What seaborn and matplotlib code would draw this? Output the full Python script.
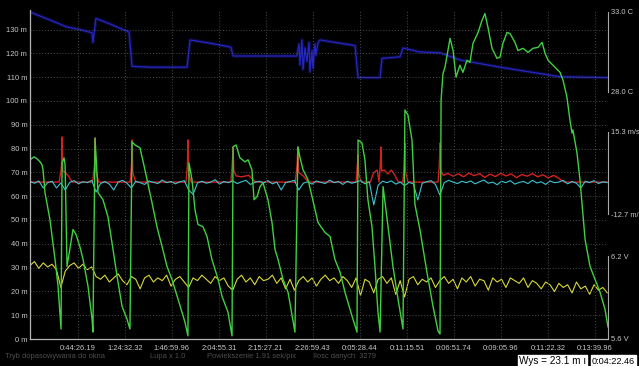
import numpy as np
import pandas as pd
import matplotlib
matplotlib.use("Agg")
import matplotlib.pyplot as plt
import seaborn as sns

# --- data ---
# altitude (green), sample index -> metres
alt_samples = [0, 23, 40, 57, 68, 74, 85, 113, 142, 159,
               176, 182, 193, 199, 210, 221, 244, 261, 284, 301,
               329, 352, 357, 369, 386, 414, 442, 471, 494, 522,
               550, 567, 579, 596, 624, 652, 692, 720, 749, 777,
               805, 840, 879, 896, 902, 919, 936, 953, 981, 1004,
               1032, 1067, 1089, 1123, 1146, 1152, 1169, 1191, 1220, 1237,
               1259, 1271, 1288, 1305, 1322, 1350, 1373, 1390, 1407, 1435,
               1464, 1503, 1520, 1532, 1549, 1577, 1600, 1634, 1674, 1702,
               1730, 1759, 1787, 1827, 1855, 1861, 1883, 1900, 1917, 1940,
               1957, 1974, 1986, 2003, 2031, 2059, 2088, 2116, 2127, 2144,
               2167, 2184, 2212, 2252, 2286, 2315, 2326, 2332, 2343, 2354,
               2383, 2400, 2417, 2439, 2456, 2479, 2496, 2513, 2542, 2564,
               2581, 2598, 2621, 2649, 2666, 2683, 2706, 2723, 2751, 2768,
               2797, 2825, 2853, 2882, 2905, 2922, 2939, 2967, 3007, 3024,
               3046, 3063, 3075, 3080, 3103, 3120, 3149, 3177, 3205, 3234,
               3262, 3279]
alt_m = [75.3, 76.5, 75.7, 74.4, 73.2, 71.1, 61.5, 50.2, 33.4, 22.2,
         4.2, 74.0, 76.1, 73.2, 30.5, 35.5, 46.0, 43.9, 38.5, 33.4,
         22.2, 8.4, 2.9, 84.4, 61.5, 58.5, 51.4, 37.6, 26.3, 13.8,
         8.4, 4.2, 82.8, 81.5, 80.3, 71.1, 57.3, 47.2, 38.9, 30.5,
         25.1, 16.7, 7.1, 1.3, 74.0, 66.9, 54.3, 48.1, 47.2, 43.1,
         33.4, 25.1, 18.0, 11.3, 1.3, 80.7, 81.5, 76.1, 74.4, 75.3,
         71.1, 58.5, 59.8, 64.0, 65.6, 58.5, 48.9, 37.6, 33.4, 25.1,
         19.6, 2.9, 80.7, 76.1, 71.1, 66.9, 59.8, 48.9, 44.7, 43.1,
         33.4, 28.0, 19.6, 9.6, 2.9, 83.6, 82.4, 75.3, 58.5, 47.2,
         30.5, 11.3, 2.9, 64.0, 47.2, 30.5, 16.7, 4.2, 96.2, 94.1,
         83.6, 56.4, 46.0, 28.0, 13.8, 3.3, 2.1, 100.3, 111.6, 114.1,
         126.3, 121.2, 110.0, 115.0, 112.0, 117.1, 116.2, 124.2, 128.8, 133.8,
         136.7, 130.9, 122.1, 117.9, 118.3, 124.2, 128.8, 128.3, 124.6, 121.2,
         122.1, 120.4, 122.1, 122.5, 124.6, 120.0, 117.1, 115.0, 112.0, 108.7,
         101.6, 92.0, 86.5, 87.8, 78.2, 66.9, 41.8, 30.5, 25.1, 19.6,
         12.5, 5.0]

# temperature (blue), deg C
temp_samples = [0, 113, 210, 284, 352, 357, 374, 454, 550, 562,
                579, 681, 891, 908, 1021, 1140, 1152, 1362, 1515, 1526,
                1532, 1543, 1549, 1560, 1571, 1583, 1588, 1600, 1605, 1617,
                1622, 1634, 1645, 1844, 1861, 1986, 1997, 2099, 2116, 2212,
                2326, 2439, 2666, 3007, 3279]
temp_c = [33.0, 32.5, 32.06, 31.9, 31.7, 31.1, 32.6, 32.25, 31.8, 31.75,
          29.6, 29.55, 29.55, 31.25, 31.05, 30.8, 30.25, 30.25, 30.25, 31.0,
          29.7, 31.25, 29.4, 30.75, 29.9, 31.1, 29.25, 30.6, 29.5, 31.0,
          30.3, 31.1, 31.25, 30.9, 28.9, 28.9, 30.1, 30.2, 30.75, 30.5,
          30.45, 30.0, 29.55, 28.95, 28.9]

# climb (red), m/s
climb_samples = [0, 165, 178, 182, 186, 200, 215, 240,
                 355, 366, 369, 373, 390,
                 568, 576, 579, 583, 600,
                 885, 893, 896, 900, 915,
                 1140, 1148, 1152, 1156, 1170, 1200, 1240, 1280,
                 1505, 1515, 1520, 1524, 1550, 1580,
                 1850, 1857, 1861, 1865, 1880,
                 1930, 1950, 1970, 1980, 1987, 1991, 1995, 2010, 2030, 2050, 2070, 2090,
                 2115, 2123, 2127, 2131, 2145,
                 2315, 2322, 2326, 2330, 2345, 2370, 2400, 2430, 2460, 2490,
                 2520, 2550, 2580, 2610, 2640, 2670, 2700, 2730, 2760, 2790,
                 2820, 2850, 2880, 2910, 2940, 2970, 3000, 3030, 3279]
climb_ms = [-1.8, -1.8, 3.0, 13.6, 2.0, 1.5, 0.5, -1.8,
            -1.8, 4.0, 13.3, 2.0, -1.8,
            -1.8, 4.0, 12.6, 1.5, -1.8,
            -1.8, 4.0, 12.6, 1.0, -1.8,
            -1.8, 5.0, 10.2, 2.0, 0.3, 0.0, 0.5, -1.8,
            -1.8, 4.0, 10.2, 1.5, 0.3, -1.8,
            -1.8, 4.0, 7.4, 1.0, -1.8,
            -1.8, 1.5, 2.3, -1.8, 4.0, 10.2, 2.0, 2.3, 1.0, 2.3, 0.5, -1.8,
            -1.8, 4.0, 11.5, 1.5, -1.8,
            -1.8, 4.0, 11.5, 2.0, 0.5, 1.2, 0.2, 1.0, 0.0, 1.3,
            0.4, 1.1, -0.2, 0.9, 0.1, 1.2, 0.3, 1.0, -0.3, 0.8,
            0.2, 1.1, 0.0, 0.7, -0.4, 0.5, -0.5, -1.8, -1.8]

# sink (cyan) m/s and battery (yellow) V, logged every 25 samples
sink_ms = [-1.6, -2.2, -1.4, -3.8, -2.0, -1.5, -3.8, -2.1, -4.5, -1.9,
           -1.3, -2.4, -1.7, -2.0, -1.2, -5.2, -2.3, -1.6, -2.5, -4.5,
           -1.8, -1.2, -2.2, -3.8, -1.5, -2.0, -2.6, -1.4, -1.9, -2.3,
           -1.1, -2.0, -1.6, -2.4, -1.7, -1.3, -4.5, -6.0, -2.1, -1.5,
           -2.2, -1.8, -1.0, -2.5, -1.6, -2.0, -1.4, -2.3, -1.7, -1.2,
           -2.6, -1.9, -1.5, -2.1, -1.3, -2.4, -1.8, -4.5, -2.0, -1.6,
           -1.2, -4.5, -2.2, -1.7, -2.5, -1.4, -1.9, -2.3, -1.1, -2.0,
           -1.6, -2.6, -1.5, -2.2, -1.8, -1.3, -2.4, -1.7, -9.6, -2.9,
           -1.5, -2.0, -1.4, -2.5, -1.8, -3.0, -1.9, -2.4, -7.9, -2.2,
           -1.7, -1.3, -2.6, -6.2, -2.0, -1.2, -1.8, -2.3, -1.5, -2.0,
           -1.4, -2.4, -1.7, -1.1, -2.2, -1.8, -2.7, -1.5, -2.0, -1.3,
           -2.5, -1.9, -1.6, -2.3, -1.2, -2.1, -1.7, -2.6, -1.4, -2.0,
           -1.8, -1.2, -2.4, -1.6, -2.2, -3.8, -1.5, -2.0, -1.3, -2.3,
           -1.7, -2.0]
volt_v = [6.13, 6.16, 6.11, 6.15, 6.12, 6.14, 6.10, 5.97, 6.09, 6.13,
          6.15, 6.11, 6.14, 6.10, 6.12, 6.05, 6.03, 6.06, 6.01, 6.04,
          6.07, 6.02, 5.99, 6.05, 6.03, 5.96, 6.04, 6.06, 6.01, 6.04,
          6.02, 6.06, 5.98, 6.03, 6.05, 6.01, 5.97, 6.04, 6.02, 6.06,
          6.03, 6.00, 6.05, 6.02, 6.04, 5.98, 5.95, 6.03, 6.06, 6.01,
          6.04, 5.99, 6.05, 6.02, 6.03, 6.06, 6.00, 6.04, 5.96, 6.03,
          5.95, 6.02, 6.05, 6.01, 6.04, 5.98, 6.03, 6.06, 6.02, 6.04,
          6.00, 6.05, 6.02, 5.97, 6.04, 5.91, 6.03, 6.01, 5.93, 6.03,
          6.05, 6.00, 6.04, 5.92, 6.02, 5.90, 6.03, 6.05, 5.99, 6.03,
          6.01, 6.04, 5.97, 6.02, 6.05, 6.00, 6.03, 5.96, 6.04, 6.01,
          6.05, 5.98, 6.03, 6.02, 5.95, 6.04, 6.01, 6.03, 5.97, 6.04,
          6.02, 6.00, 6.04, 5.97, 6.02, 6.00, 5.96, 6.01, 5.99, 5.94,
          6.00, 5.97, 5.99, 5.93, 6.01, 5.96, 5.98, 5.92, 5.99, 5.95,
          5.97, 5.93]
log_samples = np.arange(0, 25 * len(sink_ms), 25)

time_labels = ["0:44:26.19", "1:24:32.32", "1:46:59.96", "2:04:55.31",
               "2:15:27.21", "2:26:59.43", "0:05:28.44", "0:11:15.51",
               "0:06:51.74", "0:09:05.96", "0:11:22.32", "0:13:39.96"]
n_samples = 3279

alt_df = pd.DataFrame({"sample": alt_samples, "alt": alt_m})
temp_df = pd.DataFrame({"sample": temp_samples, "temp": temp_c})
climb_df = pd.DataFrame({"sample": climb_samples, "vario": climb_ms})
log_df = pd.DataFrame({"sample": log_samples, "vario": sink_ms, "volt": volt_v})

sns.set_style("dark", {"axes.facecolor": "black", "figure.facecolor": "black"})
plt.rcParams["font.family"] = ["Liberation Sans", "DejaVu Sans"]

fig = plt.figure(figsize=(6.39, 3.66), dpi=100)
ax = fig.add_axes([30 / 639, 1 - 339 / 366, 578 / 639, 329 / 366])
ax_t = ax.twinx()
ax_v = ax.twinx()
ax_u = ax.twinx()

txt = "#c8c8c8"
grid_c = "#4c4c4c"

# temperature, dim blue with a soft glow
sns.lineplot(data=temp_df, x="sample", y="temp", ax=ax_t, color="#1c1ca8",
             lw=2.6, alpha=0.35, sort=False, estimator=None, legend=False)
sns.lineplot(data=temp_df, x="sample", y="temp", ax=ax_t, color="#2626c0",
             lw=0.9, sort=False, estimator=None, legend=False)
ax_t.set_ylim(12.56, 33.125)

# vario
sns.lineplot(data=climb_df, x="sample", y="vario", ax=ax_v, color="#d42020",
             lw=1.0, sort=False, estimator=None, legend=False)
sns.lineplot(data=log_df, x="sample", y="vario", ax=ax_v, color="#3cc4d4",
             lw=0.8, sort=False, estimator=None, legend=False)
ax_v.set_ylim(-55.37, 56.95)

# battery
sns.lineplot(data=log_df, x="sample", y="volt", ax=ax_u, color="#d8d838",
             lw=0.8, sort=False, estimator=None, legend=False)
ax_u.set_ylim(5.593, 8.0)

# altitude on top
sns.lineplot(data=alt_df, x="sample", y="alt", ax=ax, color="#40d040",
             lw=1.0, sort=False, estimator=None, legend=False)
ax.set_zorder(5)
ax.patch.set_visible(False)

ax.set_xlim(0, n_samples)
ax.set_ylim(0, 138.2)
ax.set_yticks(range(0, 140, 10))
ax.set_yticklabels([f"{v} m" for v in range(0, 140, 10)])
ax.set_xticks(272 + 266.6 * np.arange(len(time_labels)))
ax.set_xticklabels(time_labels)
ax.set_xlabel("")
ax.set_ylabel("")
ax.tick_params(axis="both", colors=txt, labelsize=5.4, length=0)
ax.tick_params(axis="y", pad=2)
ax.tick_params(axis="x", pad=4)
ax.grid(True, color=grid_c, linestyle=(0, (1, 2)), linewidth=0.7)
for side in ["top", "right"]:
    ax.spines[side].set_visible(False)
for side in ["left", "bottom"]:
    ax.spines[side].set_visible(True)
    ax.spines[side].set_color("#b4b4b4")
    ax.spines[side].set_linewidth(0.9)

# right-hand scale bars (labels run off the edge as in the original)
scales = [(ax_t, (28, 33), ["28.0 C", "33.0 C"]),
          (ax_v, (-12.7, 15.3), ["-12.7 m/s", "15.3 m/s"]),
          (ax_u, (5.6, 6.2), ["5.6 V", "6.2 V"])]
for a, bounds, labels in scales:
    a.patch.set_visible(False)
    a.grid(False)
    a.set_ylabel("")
    for side in ["top", "left", "bottom"]:
        a.spines[side].set_visible(False)
    a.spines["right"].set_visible(True)
    a.spines["right"].set_color("#a8a8a8")
    a.spines["right"].set_linewidth(0.8)
    a.spines["right"].set_bounds(*bounds)
    a.set_yticks(list(bounds))
    a.set_yticklabels(labels)
    a.tick_params(axis="y", colors=txt, labelsize=5.4, length=0, pad=2)

# status bar
status_c = "#4e4e4e"
sy = 1 - 356 / 366
fig.text(5 / 639, sy, "Tryb dopasowywania do okna", color=status_c, fontsize=5.4, va="center")
fig.text(150 / 639, sy, "Lupa x 1.0", color=status_c, fontsize=5.4, va="center")
fig.text(207 / 639, sy, "Powiekszenie 1.91 sek/pix", color=status_c, fontsize=5.4, va="center")
fig.text(313 / 639, sy, "Ilosc danych: 3279", color=status_c, fontsize=5.4, va="center")

by = 1 - 361 / 366
box = dict(boxstyle="square,pad=0.12", fc="white", ec="white")
fig.text(519 / 639, by, "Wys = 23.1 m ı", color="black", fontsize=7.2, va="center", bbox=box)
fig.text(592 / 639, by, "0:04:22.46", color="black", fontsize=6.6, va="center", bbox=box)

fig.savefig("out.png", dpi=100, facecolor="black")
